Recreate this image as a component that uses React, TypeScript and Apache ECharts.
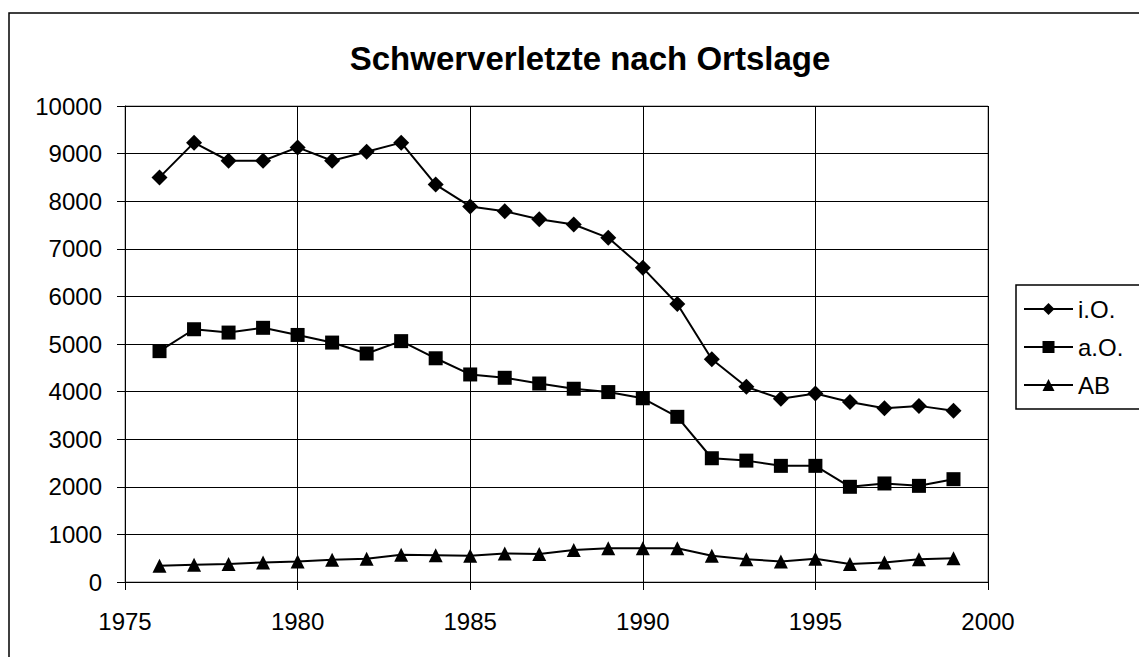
import React, { useEffect, useRef } from "react";
import * as echarts from "echarts";

const years = [1976, 1977, 1978, 1979, 1980, 1981, 1982, 1983, 1984, 1985, 1986, 1987, 1988, 1989, 1990, 1991, 1992, 1993, 1994, 1995, 1996, 1997, 1998, 1999];
const innerorts = [8500, 9230, 8850, 8850, 9130, 8850, 9040, 9230, 8350, 7890, 7790, 7620, 7510, 7230, 6600, 5840, 4680, 4100, 3850, 3960, 3780, 3650, 3700, 3600];
const ausserorts = [4850, 5310, 5240, 5340, 5190, 5030, 4800, 5060, 4700, 4360, 4290, 4170, 4060, 3990, 3860, 3470, 2600, 2550, 2440, 2440, 2000, 2070, 2020, 2160];
const autobahn = [340, 360, 380, 410, 430, 470, 490, 570, 560, 550, 600, 590, 670, 710, 710, 710, 550, 480, 430, 490, 380, 410, 480, 500];
const seriesNames = ["i.O.", "a.O.", "AB"];
const titleText = "Schwerverletzte nach Ortslage";

const FONT = "'Liberation Sans', Arial, sans-serif";

export default function App() {
  const ref = useRef<HTMLDivElement>(null);
  useEffect(() => {
    document.body.style.margin = "0";
    const chart = echarts.init(ref.current!, undefined, { renderer: "svg" });
    const pairs = (vals: number[]) => years.map((y, i) => [y, vals[i]]);
    const mk = (name: string, vals: number[], symbol: string, size: number) => ({
      name,
      type: "line",
      data: pairs(vals),
      symbol,
      symbolSize: size,
      showAllSymbol: true,
      lineStyle: { color: "#000", width: 2 },
      itemStyle: { color: "#000", borderWidth: 0 },
      emphasis: { disabled: true },
    });
    chart.setOption({
      animation: false,
      backgroundColor: "#fff",
      textStyle: { fontFamily: FONT },
      title: {
        text: titleText,
        left: 585,
        top: 37,
        textAlign: "center",
        textStyle: { fontFamily: FONT, fontSize: 33, fontWeight: "bold", color: "#000" },
      },
      graphic: [
        {
          type: "rect",
          shape: { x: 9, y: 13, width: 1300, height: 800 },
          style: { fill: "none", stroke: "#000", lineWidth: 1.5 },
          silent: true,
          z: 0,
        },
      ],
      legend: {
        orient: "vertical",
        left: 1016,
        top: 285,
        padding: [12, 80, 12, 7],
        borderColor: "#000",
        borderWidth: 1.5,
        itemWidth: 49,
        itemHeight: 15,
        itemGap: 14,
        textStyle: { fontFamily: FONT, fontSize: 24, color: "#000" },
        data: seriesNames,
      },
      grid: {
        left: 125,
        top: 106,
        right: 1139 - 988,
        bottom: 657 - 582,
        show: true,
        borderColor: "#808080",
        borderWidth: 1,
      },
      xAxis: {
        type: "value",
        min: 1975,
        max: 2000,
        interval: 5,
        axisLine: { show: true, lineStyle: { color: "#000", width: 1 } },
        axisTick: { show: true, length: 8, lineStyle: { color: "#000" } },
        axisLabel: { fontFamily: FONT, fontSize: 24, color: "#000", margin: 27, formatter: (v: number) => String(v) },
        splitLine: { show: true, lineStyle: { color: "#000", width: 1 } },
      },
      yAxis: {
        type: "value",
        min: 0,
        max: 10000,
        interval: 1000,
        axisLine: { show: true, lineStyle: { color: "#000", width: 1 } },
        axisTick: { show: true, length: 8, lineStyle: { color: "#000" } },
        axisLabel: { fontFamily: FONT, fontSize: 24, color: "#000", margin: 23, formatter: (v: number) => String(v) },
        splitLine: { show: true, lineStyle: { color: "#000", width: 1 } },
      },
      series: [
        mk(seriesNames[0], innerorts, "diamond", 16),
        mk(seriesNames[1], ausserorts, "rect", 14),
        mk(seriesNames[2], autobahn, "triangle", 14),
      ],
    });
    return () => chart.dispose();
  }, []);
  return <div ref={ref} style={{ width: 1139, height: 657 }} />;
}
